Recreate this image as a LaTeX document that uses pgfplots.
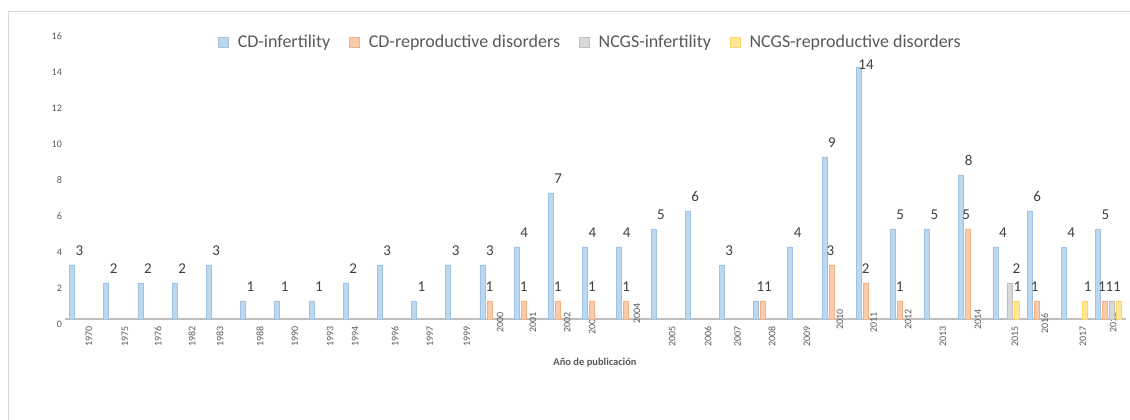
\documentclass[border=0pt]{standalone}
\usepackage{pgfplots}
\usepackage{pgfplotstable}
\pgfplotsset{compat=1.18}
\usepackage{fontspec}
\setmainfont{Carlito}

\definecolor{cdinfFill}{RGB}{189,215,238}
\definecolor{cdinfEdge}{RGB}{157,195,230}
\definecolor{cdrepFill}{RGB}{248,203,173}
\definecolor{cdrepEdge}{RGB}{244,177,131}
\definecolor{ncinfFill}{RGB}{217,217,217}
\definecolor{ncinfEdge}{RGB}{191,191,191}
\definecolor{ncrepFill}{RGB}{255,230,153}
\definecolor{ncrepEdge}{RGB}{255,214,100}
\definecolor{txtdark}{RGB}{64,64,64}
\definecolor{txtgray}{RGB}{89,89,89}
\definecolor{axisgray}{RGB}{191,191,191}
\definecolor{framegray}{RGB}{217,217,217}

% year index, value, label offsets (pt)
\pgfplotstableread{
x year y dx dy
0 1970 3 7.5 9
1 1975 2 7.5 9
2 1976 2 7.5 9
3 1982 2 7.5 9
4 1983 3 7.5 9
5 1988 1 7.5 9
6 1990 1 7.5 9
7 1993 1 7.5 9
8 1994 2 7.5 9
9 1996 3 7.5 9
10 1997 1 7.5 9
11 1999 3 7.5 9
12 2000 3 7.5 9
13 2001 4 7.5 9
14 2002 7 7.5 9
15 2003 4 7.5 9
16 2004 4 7.5 9
17 2005 5 7.5 9
18 2006 6 7.5 9
19 2007 3 7.5 9
20 2008 1 4.5 9
21 2009 4 7.5 9
22 2010 9 7.5 9
23 2011 14 7.5 -3
24 2012 5 7.5 9
25 2013 5 7.5 9
26 2014 8 7.5 9
27 2015 4 7.5 9
28 2016 6 7.5 9
29 2017 4 7.5 9
30 2018 5 7.5 9
}\cdinf

\pgfplotstableread{
x year y dx dy
12 2000 1 0 9
13 2001 1 0 9
14 2002 1 0 9
15 2003 1 0 9
16 2004 1 0 9
20 2008 1 5 9
22 2010 3 -1 9
23 2011 2 0 9
24 2012 1 0 9
26 2014 5 -2 9
28 2016 1 -2 9
30 2018 1 -3 9
}\cdrep

\pgfplotstableread{
x year y dx dy
27 2015 2 7 9
30 2018 1 -2.5 9
}\ncinf

\pgfplotstableread{
x year y dx dy
27 2015 1 1 9
29 2017 1 3 9
30 2018 1 -2 9
}\ncrep

\newcommand\yr[2]{#1\kern#2pt}

\pgfplotsset{
  sqlegend/.style={legend image code/.code={\fill[##1] (0pt,-5pt) rectangle (10pt,5pt);}},
}

\begin{document}
\begin{tikzpicture}
\path[use as bounding box] (0pt,0pt) rectangle (1130pt,420pt);
\draw[framegray, line width=1pt] (8pt,0pt) -- (8pt,408pt) -- (1130pt,408pt);
\begin{axis}[
  at={(65.4pt,101pt)}, anchor=south west,
  scale only axis, width=1060.2pt, height=288pt,
  xmin=-0.5, xmax=30.5, ymin=0, ymax=16,
  enlargelimits=false, clip=false,
  ybar=2pt, bar width=5pt,
  axis lines*=left,
  y axis line style={draw=none},
  x axis line style={draw=axisgray, line width=1.5pt},
  tick style={draw=none},
  /pgf/number format/assume math mode=true,
  ytick={0,2,...,16},
  yticklabel style={font=\fontsize{10}{12}\selectfont, text=txtgray, yshift=-5pt},
  xtick={0.19,1.24,2.21,3.20,4.02,5.19,6.21,7.24,7.97,9.14,10.16,11.24,
         12.21,13.17,14.17,14.90,16.21,17.24,18.29,19.16,20.16,21.18,
         22.15,23.13,24.14,25.16,26.18,27.26,28.14,29.25,30.13},
  xticklabels={\yr{1970}{3},\yr{1975}{3},\yr{1976}{3},\yr{1982}{3},
    \yr{1983}{3},\yr{1988}{3},\yr{1990}{3},\yr{1993}{3},\yr{1994}{3},
    \yr{1996}{3},\yr{1997}{3},\yr{1999}{3},\yr{2000}{-11},\yr{2001}{-11},
    \yr{2002}{-11},\yr{2003}{-9},\yr{2004}{-21},\yr{2005}{3},\yr{2006}{3},
    \yr{2007}{3},\yr{2008}{3},\yr{2009}{3},\yr{2010}{-14},\yr{2011}{-11},
    \yr{2012}{-14},\yr{2013}{3},\yr{2014}{-14},\yr{2015}{3},\yr{2016}{-10},
    \yr{2017}{3},\yr{2018}{-11}},
  xticklabel style={rotate=90, anchor=east, inner sep=0pt,
    font=\fontsize{10}{12}\selectfont, text=txtgray},
  visualization depends on={\thisrow{dx} \as \dx},
  visualization depends on={\thisrow{dy} \as \dy},
  nodes near coords,
  nodes near coords style={font=\fontsize{15}{17}\selectfont, text=txtdark,
    anchor=south, inner sep=0pt},
  every node near coord/.append style={xshift=\dx, yshift=\dy},
  legend columns=4,
  legend style={at={(0.4948,0.962)}, anchor=center, draw=none, fill=none,
    font=\fontsize{18}{21}\selectfont, text=txtgray,
    /tikz/every odd column/.append style={column sep=8pt},
    /tikz/every even column/.append style={column sep=18pt},
    nodes={inner sep=1pt}},
  legend cell align=left,
]
\addplot[fill=cdinfFill, draw=cdinfEdge, line width=0.6pt, sqlegend]
  table[x=x, y=y] {\cdinf};
\addplot[fill=cdrepFill, draw=cdrepEdge, line width=0.6pt, sqlegend]
  table[x=x, y=y] {\cdrep};
\addplot[fill=ncinfFill, draw=ncinfEdge, line width=0.6pt, sqlegend]
  table[x=x, y=y] {\ncinf};
\addplot[fill=ncrepFill, draw=ncrepEdge, line width=0.6pt, sqlegend]
  table[x=x, y=y] {\ncrep};
\legend{CD-infertility, CD-reproductive disorders, NCGS-infertility, NCGS-reproductive disorders}
\end{axis}
\node[font=\fontsize{10.5}{12}\selectfont\bfseries, text=txtgray] at (595pt,57pt) {Año de publicación};
\end{tikzpicture}
\end{document}
